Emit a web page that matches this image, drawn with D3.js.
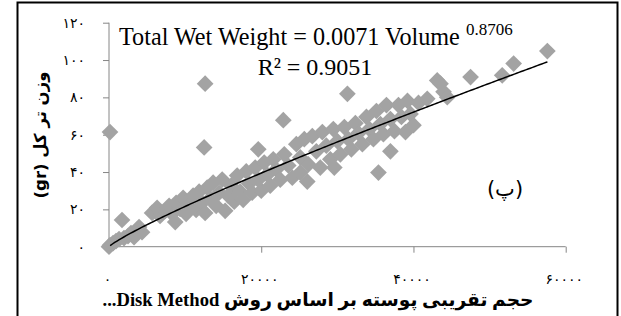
<!DOCTYPE html>
<html>
<head>
<meta charset="utf-8">
<script src="https://cdn.jsdelivr.net/npm/d3@7"></script>
<style>
  body { margin: 0; background: #fff; }
  svg { display: block; }
</style>
</head>
<body>
<div id="d3-container"></div>
<script>
/**
 * CONSTANTS AND GLOBALS
 * */
const width = 621,
    height = 316,
    margin = { top: 22.7, bottom: 69.3, left: 109, right: 55.3 },
    markerColor = "#a3a3a3",
    axisColor = "#868686";

/**
 * DATA
 * */
// approximate crust volume (Disk Method)
const volume = [
    0, 130, 530, 920, 1320, 1710, 1970, 2500, 2890, 3290, 3680, 3950, 4340,
    5660, 6320, 6710, 7370, 7900, 8290, 8700, 8820, 9340, 9740, 10130, 10530,
    11050, 11450, 11840, 12240, 12630, 12900, 13290, 13680, 14080, 14470, 14870,
    15260, 15660, 16050, 16450, 16840, 17240, 17630, 18030, 18420, 18810, 19210,
    19610, 19610, 20000, 20390, 20790, 21180, 21580, 21970, 22500, 22900, 23030,
    23550, 24080, 24610, 25130, 25130, 25660, 26050, 26190, 26710, 27240, 27760,
    28030, 28550, 29080, 29470, 29600, 30000, 30400, 30920, 31320, 31450, 31840,
    32370, 32760, 33290, 33820, 34210, 34740, 35130, 35400, 35660, 36050, 36450,
    36970, 36970, 37500, 38030, 38420, 38950, 39210, 39610, 40000, 40660, 41810,
    43120, 43550, 43950, 44440, 47500, 51660, 53160, 57590,
    130, 12500, 12630
];
// total wet weight (gr)
const weight = [
    0, 0.8, 1.9, 3.0, 4.1, 14.3, 4.6, 5.7, 7.3, 5.1, 8.9, 10.5, 7.8,
    18.1, 20.8, 16.5, 19.2, 21.9, 17.6, 13.2, 23.5, 20.3, 26.2, 17.6, 22.4,
    27.3, 19.7, 29.5, 23.5, 18.1, 31.6, 25.7, 34.3, 21.9, 28.9, 36.0,
    19.2, 27.3, 32.7, 24.1, 38.1, 29.5, 25.1, 40.3, 33.8, 28.9, 42.4,
    52.2, 35.9, 30.0, 45.1, 38.6, 32.7, 46.8, 41.4, 35.9, 67.8, 49.5,
    43.5, 37.0, 54.9, 47.8, 39.7, 57.6, 34.9, 44.1, 59.2, 51.1, 42.4,
    61.4, 54.1, 46.8, 63.0, 42.4, 56.5, 49.5, 64.1, 81.9, 57.6, 52.2,
    66.2, 60.8, 54.9, 69.5, 63.0, 57.6, 72.7, 39.7, 65.7, 60.3, 75.9,
    51.1, 68.4, 61.9, 75.9, 69.5, 61.4, 78.1, 71.1, 65.1, 77.0, 79.2,
    89.1, 87.3, 83.0, 80.1, 90.9, 91.8, 98.1, 104.8,
    61.4, 53.2, 87.3
];

const xTicks = [0, 20000, 40000, 60000];
const xTickLabels = ["۰", "۲۰۰۰۰", "۴۰۰۰۰", "۶۰۰۰۰"];
const yTicks = [0, 20, 40, 60, 80, 100, 120];
const yTickLabels = ["۰", "۲۰", "۴۰", "۶۰", "۸۰", "۱۰۰", "۱۲۰"];

// power trendline shown on the chart
const trendA = 0.0071, trendB = 0.8706;
const trendRange = [150, 57600];

const xTitle = "حجم تقریبی پوسته بر اساس روش Disk Method...";
const yTitle = "وزن تر کل (gr)";
const panelLabel = "(پ)";

/**
 * DRAW
 * */
const svg = d3.select("#d3-container")
    .append("svg")
    .attr("width", width)
    .attr("height", height);

// outer frame
svg.append("rect")
    .attr("x", 17.5).attr("y", 2.5)
    .attr("width", 600).attr("height", 330)
    .attr("fill", "none")
    .attr("stroke", "#000")
    .attr("stroke-width", 2);

const x = d3.scaleLinear().domain([0, 60000]).range([margin.left, width - margin.right]);
const y = d3.scaleLinear().domain([0, 120]).range([height - margin.bottom, margin.top]);

const xAxis = svg.append("g")
    .attr("transform", `translate(0,${y(0)})`)
    .call(d3.axisBottom(x).tickValues(xTicks).tickSize(6).tickFormat((d, i) => xTickLabels[i]));
const yAxis = svg.append("g")
    .attr("transform", `translate(${x(0)},0)`)
    .call(d3.axisLeft(y).tickValues(yTicks).tickSize(6).tickFormat((d, i) => yTickLabels[i]));

[xAxis, yAxis].forEach(g => {
    g.select(".domain").attr("stroke", axisColor).attr("d", null);
    g.selectAll(".tick line").attr("stroke", axisColor);
    g.selectAll("text")
        .attr("fill", "#000")
        .style("font-family", "'DejaVu Sans'")
        .style("font-size", "14px");
});
// axis lines without end caps
svg.append("line")
    .attr("x1", x(0)).attr("x2", x(60000))
    .attr("y1", y(0)).attr("y2", y(0))
    .attr("stroke", axisColor);
svg.append("line")
    .attr("x1", x(0)).attr("x2", x(0))
    .attr("y1", y(0)).attr("y2", y(120))
    .attr("stroke", axisColor);

xAxis.selectAll(".tick text").attr("dy", "2.05em").attr("dx", "-2px").style("letter-spacing", "6px");
yAxis.selectAll(".tick text").attr("x", -24).style("letter-spacing", "4px");

// markers
const diamond = d3.symbol().type(d3.symbolSquare).size(140);
svg.append("g")
    .selectAll("path")
    .data(volume.map((v, i) => [v, weight[i]]))
    .join("path")
    .attr("d", diamond)
    .attr("fill", markerColor)
    .attr("transform", d => `translate(${x(d[0])},${y(d[1])}) rotate(45)`);

// trendline
const trendX = d3.range(trendRange[0], trendRange[1], 300).concat([trendRange[1]]);
svg.append("path")
    .datum(trendX)
    .attr("fill", "none")
    .attr("stroke", "#000")
    .attr("stroke-width", 1.5)
    .attr("d", d3.line().x(d => x(d)).y(d => y(trendA * Math.pow(d, trendB))));

// equation
const eq = svg.append("text")
    .attr("x", 119).attr("y", 45)
    .style("font-family", "'Liberation Serif'")
    .style("font-size", "24.2px");
eq.append("tspan").text("Total Wet Weight = 0.0071 Volume ");
eq.append("tspan").attr("dy", -10).style("font-size", "17px").text(trendB);
svg.append("text")
    .attr("x", 315).attr("y", 75)
    .attr("text-anchor", "middle")
    .style("font-family", "'Liberation Serif'")
    .style("font-size", "24px")
    .text("R² = 0.9051");

// panel label
svg.append("text")
    .attr("x", 505).attr("y", 196)
    .attr("text-anchor", "middle")
    .attr("direction", "rtl")
    .style("font-family", "'DejaVu Sans'")
    .style("font-size", "21px")
    .text(panelLabel);

// axis titles
svg.append("text")
    .attr("x", 318).attr("y", 306)
    .attr("text-anchor", "middle")
    .attr("direction", "rtl")
    .style("font-family", "'Liberation Serif', 'DejaVu Sans'")
    .style("font-weight", "bold")
    .style("font-size", "18.6px")
    .text(xTitle);
svg.append("text")
    .attr("transform", "translate(46,135) rotate(-90)")
    .attr("text-anchor", "middle")
    .attr("direction", "rtl")
    .style("font-family", "'DejaVu Sans'")
    .style("font-weight", "bold")
    .style("font-size", "16.5px")
    .text(yTitle);
</script>
</body>
</html>
